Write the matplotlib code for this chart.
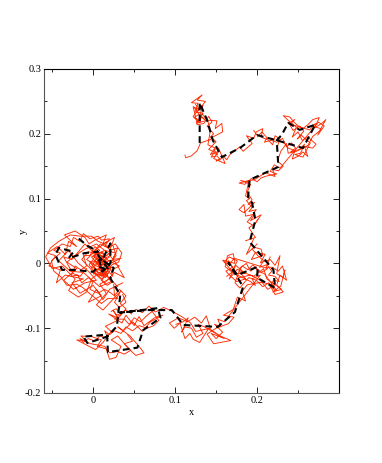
import numpy as np
import matplotlib
matplotlib.use("Agg")
import matplotlib.pyplot as plt
from matplotlib.ticker import MultipleLocator, FuncFormatter

plt.rcParams['font.family'] = ['Liberation Serif', 'DejaVu Serif']

# Red trajectory
red_top = [(0.112, 0.167), (0.113, 0.163), (0.120, 0.166), (0.127, 0.174), (0.131, 0.186), (0.143, 0.191),
           (0.146, 0.195), (0.158, 0.203), (0.157, 0.216), (0.149, 0.208), (0.151, 0.220), (0.139, 0.221),
           (0.126, 0.216), (0.134, 0.232), (0.124, 0.234), (0.128, 0.247), (0.120, 0.248), (0.133, 0.260),
           (0.127, 0.252), (0.137, 0.250), (0.131, 0.240), (0.122, 0.227), (0.130, 0.217), (0.133, 0.231),
           (0.140, 0.219), (0.143, 0.205), (0.140, 0.183), (0.149, 0.178), (0.143, 0.168), (0.153, 0.173),
           (0.147, 0.162), (0.161, 0.154), (0.157, 0.167), (0.163, 0.160), (0.167, 0.168), (0.179, 0.180),
           (0.183, 0.173), (0.194, 0.185), (0.187, 0.197), (0.196, 0.193), (0.199, 0.203), (0.207, 0.208),
           (0.205, 0.195), (0.214, 0.190), (0.219, 0.183), (0.222, 0.197), (0.228, 0.192), (0.225, 0.181)]
red_top2 = [(0.125, 0.245), (0.130, 0.238), (0.124, 0.240), (0.129, 0.230), (0.123, 0.225), (0.128, 0.222),
            (0.133, 0.226), (0.136, 0.222), (0.130, 0.228), (0.134, 0.244), (0.128, 0.236), (0.122, 0.242),
            (0.127, 0.214), (0.135, 0.216), (0.141, 0.227), (0.145, 0.218), (0.139, 0.212), (0.147, 0.200),
            (0.143, 0.195), (0.150, 0.188), (0.144, 0.180), (0.141, 0.176), (0.148, 0.172), (0.144, 0.164),
            (0.151, 0.166), (0.155, 0.160), (0.150, 0.158), (0.158, 0.163), (0.153, 0.178), (0.147, 0.176),
            (0.152, 0.168), (0.146, 0.170)]
red_right = [(0.233, 0.186), (0.238, 0.178), (0.246, 0.174), (0.243, 0.161), (0.251, 0.166), (0.256, 0.172),
             (0.262, 0.165), (0.258, 0.180), (0.268, 0.178), (0.272, 0.184), (0.262, 0.195), (0.255, 0.190),
             (0.250, 0.203), (0.243, 0.195), (0.248, 0.210), (0.237, 0.222), (0.232, 0.228), (0.240, 0.226),
             (0.245, 0.218), (0.255, 0.207), (0.262, 0.214), (0.268, 0.222), (0.276, 0.225), (0.270, 0.209),
             (0.280, 0.217), (0.284, 0.222), (0.276, 0.204), (0.268, 0.196), (0.262, 0.182), (0.248, 0.173),
             (0.238, 0.170), (0.236, 0.185), (0.229, 0.173), (0.225, 0.158), (0.232, 0.150), (0.226, 0.143),
             (0.219, 0.145), (0.222, 0.134), (0.210, 0.140), (0.198, 0.130), (0.187, 0.126), (0.180, 0.128),
             (0.192, 0.122), (0.188, 0.110), (0.194, 0.098), (0.189, 0.091), (0.197, 0.094), (0.184, 0.078),
             (0.178, 0.083), (0.184, 0.091), (0.186, 0.073), (0.197, 0.076), (0.192, 0.066), (0.205, 0.075),
             (0.198, 0.062), (0.190, 0.055), (0.198, 0.040), (0.186, 0.035)]
red_right2 = [(0.196, 0.205), (0.201, 0.196), (0.206, 0.203), (0.212, 0.194), (0.209, 0.187), (0.217, 0.190),
              (0.224, 0.187), (0.231, 0.193), (0.236, 0.180), (0.242, 0.186), (0.247, 0.178), (0.241, 0.172),
              (0.252, 0.176), (0.258, 0.184), (0.253, 0.170), (0.246, 0.168), (0.256, 0.164), (0.260, 0.174),
              (0.265, 0.186), (0.259, 0.192), (0.254, 0.198), (0.249, 0.192), (0.257, 0.204), (0.252, 0.212),
              (0.244, 0.205), (0.240, 0.214), (0.246, 0.222), (0.238, 0.216), (0.264, 0.206), (0.272, 0.216),
              (0.266, 0.212), (0.278, 0.208), (0.274, 0.198), (0.282, 0.212), (0.275, 0.218), (0.228, 0.147),
              (0.221, 0.152), (0.216, 0.142), (0.224, 0.138), (0.212, 0.135), (0.205, 0.132), (0.200, 0.126),
              (0.193, 0.131), (0.185, 0.122), (0.178, 0.124), (0.190, 0.128), (0.186, 0.104), (0.191, 0.100),
              (0.187, 0.097), (0.194, 0.086), (0.190, 0.080), (0.199, 0.083), (0.193, 0.072), (0.188, 0.064),
              (0.196, 0.058), (0.201, 0.068)]
red_mid = [(0.196, 0.038), (0.187, 0.014), (0.196, 0.025), (0.205, 0.022), (0.207, 0.012), (0.193, 0.006),
           (0.198, 0.017), (0.210, 0.014), (0.204, 0.001), (0.216, 0.006), (0.222, -0.003), (0.228, 0.012),
           (0.224, -0.016), (0.232, -0.022), (0.234, -0.010), (0.229, -0.035), (0.219, -0.044), (0.230, -0.040),
           (0.212, -0.024), (0.208, -0.008), (0.196, -0.020), (0.183, -0.014), (0.176, -0.009), (0.166, -0.024),
           (0.174, -0.003), (0.185, -0.015), (0.172, -0.016), (0.161, -0.005), (0.164, 0.012), (0.171, 0.015),
           (0.173, 0.000), (0.158, 0.005), (0.168, -0.010), (0.178, -0.022), (0.192, -0.018), (0.204, -0.026),
           (0.213, -0.040), (0.221, -0.034), (0.206, -0.029), (0.188, -0.033), (0.182, -0.043), (0.186, -0.058),
           (0.176, -0.052), (0.171, -0.071), (0.159, -0.080), (0.172, -0.083), (0.165, -0.093), (0.150, -0.100),
           (0.139, -0.109), (0.147, -0.124), (0.168, -0.119), (0.155, -0.112), (0.141, -0.100), (0.130, -0.122),
           (0.122, -0.117), (0.118, -0.108), (0.112, -0.116), (0.106, -0.092), (0.099, -0.100), (0.093, -0.092),
           (0.104, -0.084), (0.115, -0.090), (0.124, -0.083), (0.132, -0.092), (0.138, -0.081), (0.143, -0.100),
           (0.125, -0.105), (0.119, -0.092), (0.108, -0.082), (0.095, -0.073), (0.086, -0.068), (0.076, -0.075),
           (0.068, -0.066), (0.060, -0.076), (0.052, -0.071)]
red_mid2 = [(0.200, 0.030), (0.194, 0.022), (0.201, 0.012), (0.208, 0.004), (0.203, -0.006), (0.212, -0.002),
            (0.218, -0.012), (0.214, -0.018), (0.222, -0.020), (0.227, -0.028), (0.220, -0.026), (0.216, -0.036),
            (0.224, -0.042), (0.209, -0.016), (0.201, -0.012), (0.195, -0.002), (0.189, -0.010), (0.182, -0.004),
            (0.178, -0.012), (0.186, -0.024), (0.175, -0.028), (0.168, -0.020), (0.162, -0.012), (0.170, -0.006),
            (0.165, 0.004), (0.176, -0.018), (0.192, -0.028), (0.198, -0.034), (0.194, -0.024), (0.204, -0.018),
            (0.160, -0.090), (0.152, -0.086), (0.156, -0.098), (0.148, -0.094), (0.158, -0.106), (0.150, -0.116),
            (0.144, -0.108), (0.160, -0.116), (0.136, -0.098), (0.128, -0.094), (0.134, -0.108), (0.126, -0.114),
            (0.120, -0.100), (0.112, -0.098), (0.108, -0.106), (0.116, -0.084), (0.110, -0.090), (0.101, -0.094)]
red_mid3 = [(0.216, 0.010), (0.211, -0.006), (0.219, -0.006), (0.226, -0.012), (0.231, -0.004), (0.236, -0.026),
            (0.228, -0.018), (0.224, -0.033), (0.232, -0.044), (0.222, -0.048), (0.214, -0.030), (0.207, -0.036),
            (0.199, -0.026), (0.190, -0.022), (0.184, -0.030), (0.179, -0.038), (0.173, -0.030), (0.180, -0.006),
            (0.187, 0.000), (0.192, -0.012), (0.198, -0.006), (0.205, -0.014), (0.213, -0.008), (0.172, 0.008),
            (0.166, -0.002), (0.160, 0.002), (0.166, 0.010), (0.176, 0.004), (0.169, -0.014), (0.163, -0.020)]
red_low = [(0.047, -0.078), (0.040, -0.072), (0.029, -0.080), (0.024, -0.072), (0.030, -0.084), (0.019, -0.078),
           (0.035, -0.092), (0.040, -0.080), (0.050, -0.096), (0.056, -0.082), (0.062, -0.096), (0.076, -0.083),
           (0.085, -0.080), (0.070, -0.090), (0.060, -0.105), (0.048, -0.090), (0.037, -0.104), (0.030, -0.098),
           (0.045, -0.112), (0.056, -0.128), (0.062, -0.138), (0.052, -0.142), (0.042, -0.130), (0.030, -0.112),
           (0.022, -0.118), (0.034, -0.128), (0.028, -0.145), (0.020, -0.148), (0.016, -0.132), (0.005, -0.128),
           (0.010, -0.118), (-0.002, -0.113), (-0.015, -0.112), (-0.008, -0.120), (-0.020, -0.118), (-0.005, -0.128),
           (0.003, -0.133), (0.012, -0.122), (0.022, -0.105), (0.015, -0.097), (0.028, -0.089), (0.040, -0.070),
           (0.033, -0.062), (0.040, -0.050), (0.032, -0.040), (0.026, -0.050), (0.025, -0.032)]
red_low2 = [(0.022, -0.074), (0.028, -0.070), (0.034, -0.078), (0.026, -0.086), (0.038, -0.086), (0.044, -0.094),
            (0.050, -0.084), (0.058, -0.090), (0.066, -0.080), (0.072, -0.074), (0.080, -0.088), (0.074, -0.096),
            (0.066, -0.100), (0.056, -0.096), (0.048, -0.104), (0.040, -0.098), (0.034, -0.108), (0.026, -0.104),
            (0.020, -0.110), (0.014, -0.104), (0.018, -0.116), (0.008, -0.112), (0.002, -0.120), (-0.006, -0.116),
            (-0.012, -0.122), (-0.016, -0.116), (-0.003, -0.124), (0.006, -0.126), (0.014, -0.128), (0.020, -0.138),
            (0.030, -0.136), (0.038, -0.140), (0.046, -0.134), (0.038, -0.124), (0.048, -0.120), (0.042, -0.110)]
red_cluster = [(0.036, -0.030), (0.020, -0.040), (0.012, -0.056), (0.004, -0.040), (-0.006, -0.060), (0.010, -0.050),
               (0.000, -0.034), (-0.016, -0.046), (-0.026, -0.030), (-0.012, -0.024), (-0.034, -0.018),
               (-0.045, -0.030), (-0.040, -0.010), (-0.054, -0.004), (-0.046, 0.012), (-0.056, 0.016), (-0.044, 0.026),
               (-0.034, 0.014), (-0.030, 0.034), (-0.020, 0.026), (-0.035, 0.044), (-0.022, 0.050), (-0.010, 0.040),
               (-0.005, 0.030), (0.002, 0.036), (0.016, 0.044), (0.012, 0.030), (0.026, 0.040), (0.020, 0.020),
               (0.030, 0.024), (0.024, 0.006), (0.034, 0.008), (0.014, -0.004), (0.006, 0.012), (-0.002, -0.006),
               (0.012, -0.012), (0.004, 0.008), (0.016, 0.004), (0.000, -0.016), (0.018, -0.020), (0.006, -0.002),
               (0.020, 0.010), (0.002, 0.020), (0.012, 0.004), (-0.004, 0.002), (0.010, -0.020), (0.022, -0.006),
               (0.008, 0.014), (-0.006, 0.018), (-0.014, 0.006), (-0.002, -0.010), (0.014, -0.030), (0.026, -0.014),
               (0.038, -0.022), (0.028, 0.000), (0.018, 0.016), (0.004, 0.030), (-0.010, 0.022), (-0.022, 0.012),
               (-0.032, 0.002), (-0.020, -0.008), (-0.036, -0.026), (-0.024, -0.040), (-0.010, -0.030),
               (0.004, -0.026), (-0.006, -0.012), (-0.018, 0.000), (-0.030, 0.020), (-0.042, 0.004), (-0.028, -0.012),
               (-0.012, -0.014), (0.008, -0.036), (0.022, -0.028), (0.010, -0.008), (-0.002, 0.010), (0.014, 0.020),
               (0.028, 0.016), (0.016, -0.010), (0.004, -0.004), (-0.008, 0.006), (0.006, 0.024), (0.018, 0.034)]
red_cluster2 = [(0.030, -0.036), (0.024, -0.028), (0.017, -0.034), (0.010, -0.026), (0.016, -0.018), (0.008, -0.014),
                (0.014, -0.008), (0.006, -0.010), (0.011, -0.001), (0.003, 0.000), (0.009, 0.006), (0.015, 0.001),
                (0.010, 0.011), (0.017, 0.008), (0.012, 0.016), (0.005, 0.017), (0.000, 0.006), (-0.005, -0.002),
                (0.001, -0.012), (0.007, -0.020), (0.013, -0.014), (0.019, -0.012), (0.024, -0.020), (0.020, -0.002),
                (0.013, 0.006), (0.006, 0.004), (0.000, 0.012), (0.008, 0.020), (0.002, 0.026), (-0.004, 0.012),
                (-0.012, 0.012), (-0.008, -0.004), (-0.015, -0.010), (-0.022, -0.004), (-0.027, -0.020), (-0.019, -0.018),
                (-0.014, -0.030), (-0.006, -0.022), (0.000, -0.028), (-0.004, -0.040), (0.006, -0.046), (0.014, -0.040),
                (0.022, -0.046), (0.030, -0.054), (0.018, -0.054), (0.010, -0.062), (0.003, -0.054), (-0.003, -0.048),
                (-0.012, -0.038), (-0.020, -0.032), (-0.032, -0.034), (-0.040, -0.020), (-0.048, -0.012), (-0.051, 0.004),
                (-0.040, 0.016), (-0.048, 0.020), (-0.038, 0.030), (-0.028, 0.026), (-0.024, 0.040), (-0.016, 0.034),
                (-0.012, 0.046), (-0.004, 0.038), (0.006, 0.042), (0.010, 0.036), (0.020, 0.038), (0.014, 0.026),
                (0.024, 0.028), (0.028, 0.012), (0.022, 0.002), (0.032, -0.004), (0.026, -0.008), (0.018, -0.004),
                (0.012, -0.018), (0.004, -0.012), (0.009, -0.004), (0.002, 0.004), (0.007, 0.010), (0.013, -0.002),
                (0.019, 0.004), (0.011, 0.012), (0.004, 0.014), (-0.002, 0.020), (-0.010, 0.030), (-0.018, 0.018),
                (-0.026, 0.006), (-0.036, 0.010), (-0.030, -0.004), (-0.024, -0.016), (-0.016, -0.020), (-0.008, -0.008)]
red_cluster3 = [(0.036, -0.048), (0.040, -0.060), (0.032, -0.068), (0.026, -0.060), (0.034, -0.042), (0.012, -0.072),
                (0.004, -0.064), (0.016, -0.046), (0.008, -0.032), (0.020, -0.024), (0.012, -0.010), (0.018, -0.016),
                (0.008, -0.006), (0.014, 0.000), (0.007, 0.002), (0.012, 0.009), (0.005, 0.008), (0.010, -0.008),
                (0.016, -0.002), (0.021, -0.010), (0.015, -0.022), (0.006, -0.016), (0.001, -0.004), (0.008, 0.002),
                (0.003, 0.010), (0.010, 0.018), (0.016, 0.012), (0.022, 0.018), (0.014, 0.030), (0.006, 0.034),
                (-0.002, 0.042), (-0.016, 0.042), (-0.028, 0.044), (-0.042, 0.034), (-0.052, 0.024), (-0.058, 0.010),
                (-0.050, -0.008), (-0.038, -0.004), (-0.030, -0.014), (-0.022, -0.024), (-0.030, -0.042), (-0.018, -0.052),
                (-0.008, -0.044), (-0.002, -0.024), (0.004, -0.018), (0.011, -0.024), (0.017, -0.012), (0.023, -0.002),
                (0.031, 0.002), (0.035, 0.016), (0.027, 0.030), (0.018, 0.024), (0.009, 0.030), (0.000, 0.018)]

# Thick dashed line through the same walk
black_x = [0.130, 0.130, 0.139, 0.146, 0.157, 0.179, 0.200, 0.224, 0.256, 0.271, 0.252, 0.238, 0.230, 0.224, 0.226,
           0.191, 0.189, 0.194, 0.198, 0.191, 0.220, 0.222, 0.200, 0.201, 0.176, 0.165, 0.183, 0.173, 0.152, 0.110,
           0.096, 0.066, 0.033, 0.079, 0.082, 0.061, 0.054, 0.018, 0.017, -0.012, -0.007, 0.017, 0.029, 0.033, 0.021,
           0.025, 0.011, 0.021, 0.021, 0.011, 0.006, 0.019, 0.006, 0.000, -0.024, -0.038, -0.046, -0.042, -0.024,
           -0.030, -0.010, 0.006, -0.008, -0.020]
black_y = [0.186, 0.248, 0.221, 0.190, 0.164, 0.178, 0.198, 0.190, 0.178, 0.214, 0.206, 0.217, 0.198, 0.190, 0.149,
           0.129, 0.103, 0.093, 0.067, 0.033, -0.010, -0.038, -0.022, -0.005, -0.018, 0.001, -0.036, -0.075, -0.098,
           -0.095, -0.072, -0.072, -0.076, -0.069, -0.084, -0.103, -0.130, -0.137, -0.110, -0.113, -0.123, -0.113,
           -0.097, -0.049, -0.023, -0.007, 0.005, 0.031, 0.000, -0.013, 0.013, -0.010, -0.005, -0.013, -0.010, -0.010,
           0.013, 0.024, 0.018, 0.008, 0.016, 0.018, 0.028, 0.041]

x_ticks = [0, 0.1, 0.2]
y_ticks = [-0.2, -0.1, 0, 0.1, 0.2, 0.3]

red_pieces = [red_top, red_top2, red_right, red_right2, red_mid, red_mid2, red_mid3, red_low, red_low2,
              red_cluster, red_cluster2, red_cluster3]

fig = plt.figure(figsize=(3.82, 4.63), dpi=100)
ax = fig.add_axes([44 / 382, 1 - 393 / 463, 295 / 382, 324 / 463])

for piece in red_pieces:
    arr = np.array(piece)
    ax.plot(arr[:, 0], arr[:, 1], color='#ff2a00', lw=0.65)
ax.plot(black_x, black_y, color='black', lw=1.5, ls=(0, (3.2, 2.0)))

ax.set_xlim(-0.06, 0.3)
ax.set_ylim(-0.2, 0.3)
ax.set_xticks(x_ticks)
ax.set_yticks(y_ticks)
ax.xaxis.set_minor_locator(MultipleLocator(0.05))
ax.yaxis.set_minor_locator(MultipleLocator(0.05))
fmt = FuncFormatter(lambda v, pos: '%g' % round(v, 1))
ax.xaxis.set_major_formatter(fmt)
ax.yaxis.set_major_formatter(fmt)
ax.tick_params(which='major', direction='in', top=True, right=True, length=4.5, width=0.6, labelsize=7.5, pad=2)
ax.tick_params(which='minor', direction='in', top=True, right=True, length=2.2, width=0.6)
for s in ax.spines.values():
    s.set_linewidth(0.8)
ax.spines['left'].set_color('#555555')
ax.spines['bottom'].set_color('#555555')
ax.set_xlabel('x', fontsize=7.5, labelpad=2)
ax.set_ylabel('y', fontsize=7.5, labelpad=-2)

fig.savefig('out.png', dpi=100)
